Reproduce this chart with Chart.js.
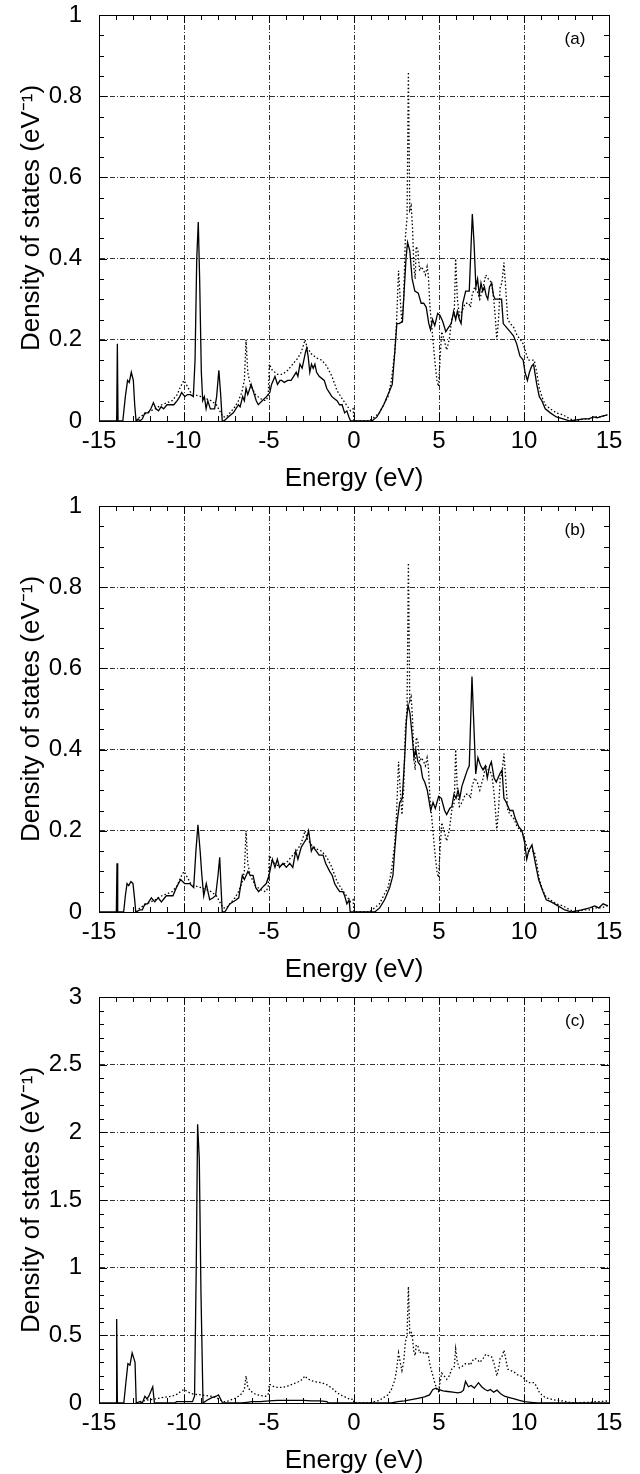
<!DOCTYPE html>
<html>
<head>
<meta charset="utf-8">
<title>Density of states</title>
<script src="https://cdn.jsdelivr.net/npm/chart.js@4.4.1/dist/chart.umd.min.js"></script>
<style>
  html, body { margin: 0; padding: 0; background: #fff; }
  #page { position: relative; width: 640px; height: 1474px; overflow: hidden; }
  canvas { position: absolute; left: 0; }
</style>
</head>
<body>
<div id="page">
  <canvas id="dos-a" width="640" height="494" style="top:0px"></canvas>
  <canvas id="dos-b" width="640" height="495" style="top:490px"></canvas>
  <canvas id="dos-c" width="640" height="496" style="top:980px"></canvas>
</div>
<script>
// dotted curve, the same in all three panels
const eRef = [
  -12.8, -12.6, -12.2, -11.7, -11.3, -11.0, -10.7, -10.4, -10.2, -10.0,
  -9.8, -9.6, -9.4, -9.0, -8.7, -8.4, -8.1, -7.9, -7.7, -7.5,
  -7.3, -7.0, -6.8, -6.6, -6.45, -6.35, -6.25, -6.1, -5.8, -5.5,
  -5.2, -5.05, -4.98, -4.8, -4.5, -4.2, -3.9, -3.6, -3.3, -3.1,
  -2.95, -2.88, -2.75, -2.5, -2.2, -1.9, -1.6, -1.3, -1.0, -0.7,
  -0.45, -0.2, -0.05, 0.0, 0.9, 1.2, 1.5, 1.8, 2.0, 2.2,
  2.4, 2.5, 2.62, 2.72, 2.82, 2.92, 3.02, 3.12, 3.2, 3.28,
  3.36, 3.44, 3.52, 3.6, 3.66, 3.76, 3.86, 3.96, 4.1, 4.2,
  4.3, 4.37, 4.47, 4.6, 4.75, 4.88, 4.97, 5.06, 5.16, 5.3,
  5.45, 5.6, 5.75, 5.9, 5.98, 6.08, 6.2, 6.35, 6.55, 6.75,
  6.85, 6.95, 7.1, 7.25, 7.4, 7.6, 7.75, 7.9, 8.1, 8.22,
  8.32, 8.4, 8.5, 8.6, 8.7, 8.82, 8.92, 9.04, 9.2, 9.4,
  9.6, 9.8, 9.95, 10.1, 10.25, 10.45, 10.6, 10.75, 10.9, 11.05,
  11.25, 11.55, 11.9, 12.3, 12.7, 13.1, 13.5, 13.9, 14.2, 14.5,
  14.9
];
const dosRef = [
  0, 0.01, 0.02, 0.03, 0.04, 0.045, 0.05, 0.065, 0.085, 0.1,
  0.085, 0.07, 0.065, 0.06, 0.055, 0.05, 0.04, 0.025, 0.01, 0.01,
  0.02, 0.035, 0.05, 0.07, 0.1, 0.2, 0.12, 0.09, 0.065, 0.055,
  0.05, 0.06, 0.14, 0.125, 0.115, 0.115, 0.125, 0.14, 0.155, 0.17,
  0.19, 0.2, 0.18, 0.165, 0.155, 0.15, 0.135, 0.11, 0.075, 0.055,
  0.04, 0.025, 0.03, 0, 0, 0.01, 0.02, 0.045, 0.06, 0.1,
  0.17, 0.24, 0.37, 0.3, 0.24, 0.3, 0.45, 0.5, 0.86, 0.52,
  0.53, 0.48, 0.38, 0.35, 0.43, 0.42, 0.37, 0.38, 0.37, 0.36,
  0.38, 0.36, 0.28, 0.22, 0.15, 0.1, 0.085, 0.15, 0.22, 0.2,
  0.175, 0.2, 0.25, 0.27, 0.4, 0.3, 0.26, 0.27, 0.29, 0.29,
  0.28, 0.31, 0.33, 0.32, 0.3, 0.33, 0.36, 0.35, 0.34, 0.3,
  0.25, 0.2, 0.25, 0.33, 0.34, 0.39, 0.33, 0.25, 0.24, 0.23,
  0.21, 0.2, 0.19, 0.17, 0.15, 0.15, 0.15, 0.12, 0.08, 0.06,
  0.04, 0.03, 0.02, 0.015, 0.005, 0, 0.005, 0.005, 0.01, 0.01,
  0.015
];

// solid curve, panel (a)
const eA = [
  -15, -13.96, -13.92, -13.88, -13.6, -13.45, -13.32, -13.22, -13.1, -12.98,
  -12.9, -12.82, -12.7, -12.6, -12.45, -12.3, -12.1, -11.95, -11.8, -11.65,
  -11.5, -11.35, -11.2, -11.0, -10.8, -10.6, -10.4, -10.25, -10.14, -9.95,
  -9.8, -9.62, -9.45, -9.35, -9.25, -9.16, -9.08, -8.98, -8.9, -8.8,
  -8.7, -8.6, -8.45, -8.2, -8.08, -7.95, -7.85, -7.75, -7.65, -7.4,
  -7.1, -6.95, -6.8, -6.7, -6.55, -6.45, -6.35, -6.25, -6.05, -5.9,
  -5.75, -5.63, -5.4, -5.15, -4.95, -4.85, -4.75, -4.65, -4.5, -4.35,
  -4.25, -4.1, -3.9, -3.7, -3.55, -3.4, -3.3, -3.18, -3.05, -2.95,
  -2.85, -2.78, -2.7, -2.6, -2.5, -2.4, -2.3, -2.2, -2.05, -1.9,
  -1.75, -1.6, -1.45, -1.3, -1.15, -1.0, -0.85, -0.7, -0.55, -0.42,
  -0.3, -0.2, 1.05, 1.35, 1.75, 2.1, 2.25, 2.4, 2.52, 2.65,
  2.85, 2.95, 3.06, 3.15, 3.28, 3.42, 3.58, 3.78, 3.95, 4.1,
  4.25, 4.4, 4.5, 4.62, 4.75, 4.92, 5.06, 5.22, 5.4, 5.55,
  5.72, 5.86, 5.98, 6.08, 6.2, 6.3, 6.4, 6.57, 6.78, 6.96,
  7.06, 7.17, 7.27, 7.37, 7.47, 7.57, 7.67, 7.77, 7.87, 7.97,
  8.1, 8.2, 8.3, 8.42, 8.55, 8.68, 8.78, 8.98, 9.18, 9.38,
  9.57, 9.76, 9.95, 10.06, 10.2, 10.32, 10.45, 10.56, 10.75, 10.9,
  11.05, 11.25, 11.55, 11.9, 12.3, 12.7, 13.1, 13.5, 13.8, 14.1,
  14.3, 14.6, 14.9
];
const dosA = [
  0, 0, 0.19, 0, 0, 0.06, 0.1, 0.095, 0.12, 0.1,
  0.04, 0, 0.005, 0, 0.005, 0.02, 0.02, 0.03, 0.045, 0.03,
  0.025, 0.035, 0.03, 0.04, 0.04, 0.04, 0.05, 0.06, 0.07, 0.06,
  0.065, 0.065, 0.06, 0.15, 0.4, 0.49, 0.35, 0.12, 0.05, 0.06,
  0.03, 0.05, 0.03, 0.03, 0.06, 0.125, 0.07, 0, 0, 0.01,
  0.02, 0.03, 0.04, 0.035, 0.06, 0.05, 0.08, 0.065, 0.09, 0.07,
  0.05, 0.04, 0.05, 0.06, 0.07, 0.09, 0.1, 0.11, 0.09, 0.1,
  0.1, 0.095, 0.1, 0.1, 0.11, 0.12, 0.11, 0.14, 0.13, 0.15,
  0.17, 0.18, 0.16, 0.12, 0.14, 0.13, 0.14, 0.12, 0.11, 0.105,
  0.1, 0.08, 0.07, 0.06, 0.055, 0.05, 0.04, 0.04, 0.02, 0.025,
  0.01, 0, 0, 0.01, 0.04, 0.075, 0.09, 0.17, 0.24, 0.24,
  0.245, 0.32, 0.4, 0.44, 0.42, 0.35, 0.32, 0.315, 0.29, 0.29,
  0.28, 0.24, 0.225, 0.25, 0.235, 0.265, 0.26, 0.245, 0.22, 0.23,
  0.24, 0.27, 0.25, 0.27, 0.25, 0.24, 0.29, 0.32, 0.32, 0.51,
  0.44, 0.33, 0.35, 0.31, 0.34, 0.32, 0.33, 0.31, 0.3, 0.33,
  0.34, 0.31, 0.3, 0.3, 0.3, 0.3, 0.24, 0.23, 0.22, 0.21,
  0.19, 0.16, 0.15, 0.12, 0.1, 0.12, 0.135, 0.14, 0.09, 0.06,
  0.05, 0.03, 0.02, 0.01, 0.005, 0, 0.003, 0.005, 0.005, 0.01,
  0.008, 0.012, 0.015
];

// solid curve, panel (b)
const eB = [
  -15, -13.98, -13.94, -13.9, -13.55, -13.45, -13.35, -13.25, -13.12, -13.0,
  -12.9, -12.84, -12.6, -12.45, -12.3, -12.15, -11.92, -11.72, -11.52, -11.33,
  -11.04, -10.65, -10.45, -10.2, -9.96, -9.67, -9.43, -9.3, -9.18, -9.05,
  -8.95, -8.84, -8.69, -8.49, -8.29, -8.14, -8.0, -7.9, -7.82, -7.75,
  -7.6, -7.31, -6.92, -6.78, -6.57, -6.45, -6.24, -6.1, -5.94, -5.78,
  -5.61, -5.4, -5.16, -5.0, -4.8, -4.65, -4.51, -4.38, -4.18, -3.98,
  -3.78, -3.6, -3.43, -3.3, -3.1, -2.95, -2.8, -2.67, -2.51, -2.4,
  -2.22, -2.05, -1.82, -1.67, -1.43, -1.28, -1.14, -1.0, -0.84, -0.65,
  -0.55, -0.42, -0.29, -0.22, 1.22, 1.51, 1.8, 2.1, 2.29, 2.39,
  2.53, 2.69, 2.84, 2.98, 3.08, 3.18, 3.29, 3.41, 3.53, 3.63,
  3.76, 3.92, 4.04, 4.16, 4.31, 4.43, 4.51, 4.65, 4.78, 4.98,
  5.14, 5.33, 5.45, 5.63, 5.76, 5.88, 6.0, 6.12, 6.22, 6.35,
  6.51, 6.67, 6.78, 6.94, 7.06, 7.16, 7.29, 7.45, 7.59, 7.73,
  7.84, 7.98, 8.08, 8.24, 8.37, 8.57, 8.71, 8.82, 8.96, 9.16,
  9.35, 9.49, 9.69, 9.88, 10.04, 10.16, 10.27, 10.47, 10.67, 10.86,
  11.12, 11.31, 11.6, 12.0, 12.4, 12.8, 13.4, 13.86, 14.16, 14.4,
  14.65, 14.94
];
const dosB = [
  0, 0, 0.12, 0, 0, 0.04, 0.07, 0.065, 0.075, 0.07,
  0.03, 0, 0.005, 0.005, 0.02, 0.02, 0.035, 0.025, 0.035, 0.025,
  0.04, 0.04, 0.06, 0.08, 0.07, 0.07, 0.06, 0.15, 0.215, 0.15,
  0.09, 0.04, 0.07, 0.03, 0.035, 0.04, 0.09, 0.135, 0.06, 0,
  0, 0.02, 0.03, 0.035, 0.09, 0.08, 0.1, 0.09, 0.09, 0.06,
  0.05, 0.06, 0.07, 0.09, 0.13, 0.11, 0.13, 0.11, 0.12, 0.11,
  0.12, 0.11, 0.15, 0.13, 0.16, 0.17, 0.18, 0.2, 0.15, 0.16,
  0.15, 0.14, 0.14, 0.12, 0.1, 0.09, 0.07, 0.06, 0.05, 0.05,
  0.04, 0.02, 0.03, 0, 0, 0.01, 0.03, 0.06, 0.09, 0.15,
  0.22, 0.27, 0.28, 0.38, 0.47, 0.51, 0.49, 0.44, 0.38, 0.4,
  0.37, 0.36, 0.33, 0.32, 0.3, 0.27, 0.25, 0.27, 0.255, 0.285,
  0.28, 0.25, 0.24, 0.255, 0.26, 0.29, 0.28, 0.3, 0.28, 0.31,
  0.33, 0.35, 0.36, 0.58, 0.45, 0.34, 0.38, 0.36, 0.35, 0.36,
  0.33, 0.36, 0.37, 0.33, 0.32, 0.34, 0.35, 0.28, 0.27, 0.25,
  0.25, 0.23, 0.21, 0.2, 0.17, 0.13, 0.15, 0.165, 0.12, 0.08,
  0.05, 0.03, 0.025, 0.015, 0.005, 0, 0.005, 0.01, 0.015, 0.01,
  0.02, 0.015
];

// solid curve, panel (c)
const eC = [
  -15, -14.0, -13.96, -13.92, -13.54, -13.42, -13.3, -13.18, -13.05, -12.95,
  -12.88, -12.81, -12.6, -12.45, -12.3, -12.18, -12.07, -11.84, -11.74, -10.5,
  -10.45, -9.5, -9.38, -9.28, -9.2, -9.1, -9.0, -8.88, -8.65, -8.36,
  -8.1, -7.97, -7.85, -7.73, -6.6, -6.3, -6.0, -5.5, -5.0, -4.5,
  -4.0, -3.5, -3.0, -2.5, -2.0, -1.6, -1.5, 2.19, 2.58, 2.97,
  3.37, 3.76, 4.15, 4.44, 4.64, 4.83, 4.97, 5.23, 5.52, 5.81,
  6.1, 6.3, 6.44, 6.56, 6.73, 6.89, 7.08, 7.32, 7.51, 7.71,
  7.87, 8.02, 8.22, 8.41, 8.61, 8.85, 9.14, 9.43, 9.73, 10.02,
  10.41, 10.8, 15
];
const dosC = [
  0, 0, 0.62, 0, 0, 0.15, 0.29, 0.28, 0.37, 0.33,
  0.3, 0, 0.01, 0, 0.05, 0.03, 0.05, 0.12, 0, 0,
  0.01, 0.01, 0.05, 1.0, 2.06, 1.8, 0.8, 0, 0.02, 0.04,
  0.05, 0.06, 0.03, 0, 0, 0.005, 0.01, 0.01, 0.015, 0.02,
  0.02, 0.02, 0.02, 0.015, 0.015, 0.01, 0, 0, 0.01, 0.015,
  0.025, 0.035, 0.045, 0.06, 0.1, 0.11, 0.1, 0.09, 0.085, 0.08,
  0.075, 0.08, 0.095, 0.16, 0.12, 0.13, 0.11, 0.15, 0.12, 0.1,
  0.09, 0.1, 0.08, 0.095, 0.07, 0.05, 0.04, 0.03, 0.02, 0.01,
  0.005, 0, 0
];

const xTicks = [-15, -10, -5, 0, 5, 10, 15];

const FONT = "'Liberation Sans', Arial, Helvetica, sans-serif";

function points(xs, ys) {
    return xs.map((x, i) => ({ x: x, y: ys[i] }));
}

// box, inward ticks on all four sides, panel tag
const frameTicks = {
    id: 'frameTicks',
    afterDatasetsDraw(chart, args, opts) {
        const { ctx, chartArea: a, scales: { x, y } } = chart;
        ctx.save();
        ctx.strokeStyle = '#000';
        ctx.lineWidth = 1;
        ctx.setLineDash([]);
        ctx.beginPath();
        for (let e = -15; e <= 15; e++) {
            const px = Math.round(x.getPixelForValue(e)) + 0.5;
            const len = e % 5 === 0 ? 8 : 5;
            ctx.moveTo(px, a.bottom); ctx.lineTo(px, a.bottom - len);
            ctx.moveTo(px, a.top); ctx.lineTo(px, a.top + len);
        }
        const n = Math.round(opts.ymax / opts.minor);
        const every = Math.round(opts.major / opts.minor);
        for (let k = 0; k <= n; k++) {
            const py = Math.round(y.getPixelForValue(k * opts.minor)) + 0.5;
            const len = k % every === 0 ? 8 : 5;
            ctx.moveTo(a.left, py); ctx.lineTo(a.left + len, py);
            ctx.moveTo(a.right, py); ctx.lineTo(a.right - len, py);
        }
        ctx.stroke();
        ctx.strokeRect(Math.round(a.left) + 0.5, Math.round(a.top) + 0.5,
            Math.round(a.right - a.left), Math.round(a.bottom - a.top));
        ctx.fillStyle = '#000';
        ctx.font = '17px ' + FONT;
        ctx.textAlign = 'center';
        ctx.textBaseline = 'middle';
        ctx.fillText(opts.tag, x.getPixelForValue(13.0), a.top + 24);
        ctx.restore();
    }
};

function makeChart(id, solidPts, ymax, ystep, minor, tag, padTop, xHeight) {
    const ctx = document.getElementById(id);
    return new Chart(ctx.getContext('2d'), {
        type: 'line',
        data: {
            datasets: [
                {
                    label: 'reference',
                    data: points(eRef, dosRef),
                    borderColor: '#000',
                    borderWidth: 1.3,
                    borderDash: [1.5, 2.2],
                    pointRadius: 0,
                    tension: 0,
                    fill: false
                },
                {
                    label: tag,
                    data: solidPts,
                    borderColor: '#000',
                    borderWidth: 1.3,
                    pointRadius: 0,
                    tension: 0,
                    fill: false
                }
            ]
        },
        options: {
            responsive: false,
            animation: false,
            events: [],
            layout: { padding: { top: padTop, right: 31, left: 0, bottom: 0 } },
            scales: {
                x: {
                    type: 'linear',
                    min: -15,
                    max: 15,
                    afterBuildTicks: s => { s.ticks = xTicks.map(v => ({ value: v })); },
                    afterFit: s => { s.height = xHeight; },
                    grid: { color: '#333', lineWidth: 1, drawTicks: false },
                    border: { display: true, color: '#000', width: 1, dash: [5, 2, 1, 2] },
                    ticks: { color: '#000', padding: 6, font: { family: FONT, size: 24 }, maxRotation: 0 },
                    title: {
                        display: true,
                        text: 'Energy (eV)',
                        color: '#000',
                        font: { family: FONT, size: 26 },
                        padding: { top: 0, bottom: 0 }
                    }
                },
                y: {
                    type: 'linear',
                    min: 0,
                    max: ymax,
                    ticks: {
                        stepSize: ystep,
                        color: '#000',
                        padding: 17,
                        font: { family: FONT, size: 24 },
                        callback: v => String(parseFloat(v.toFixed(2)))
                    },
                    // fixed width, and no extra top room for the tick padding
                    afterFit: s => { s.width = 99; s.paddingTop = 0; s.paddingBottom = 0; },
                    grid: { color: '#333', lineWidth: 1, drawTicks: false },
                    border: { display: true, color: '#000', width: 1, dash: [5, 2, 1, 2] },
                    title: {
                        display: true,
                        text: 'Density of states (eV\u207B\u00B9)',
                        color: '#000',
                        font: { family: FONT, size: 26 },
                        padding: { top: 16, bottom: 0 }
                    }
                }
            },
            plugins: {
                legend: { display: false },
                tooltip: { enabled: false },
                frameTicks: { ymax: ymax, major: ystep, minor: minor, tag: tag }
            }
        },
        plugins: [frameTicks]
    });
}

makeChart('dos-a', points(eA, dosA), 1, 0.2, 0.05, '(a)', 15, 73);
makeChart('dos-b', points(eB, dosB), 1, 0.2, 0.05, '(b)', 16, 73);
makeChart('dos-c', points(eC, dosC), 3, 0.5, 0.1, '(c)', 17, 73);
</script>
</body>
</html>
